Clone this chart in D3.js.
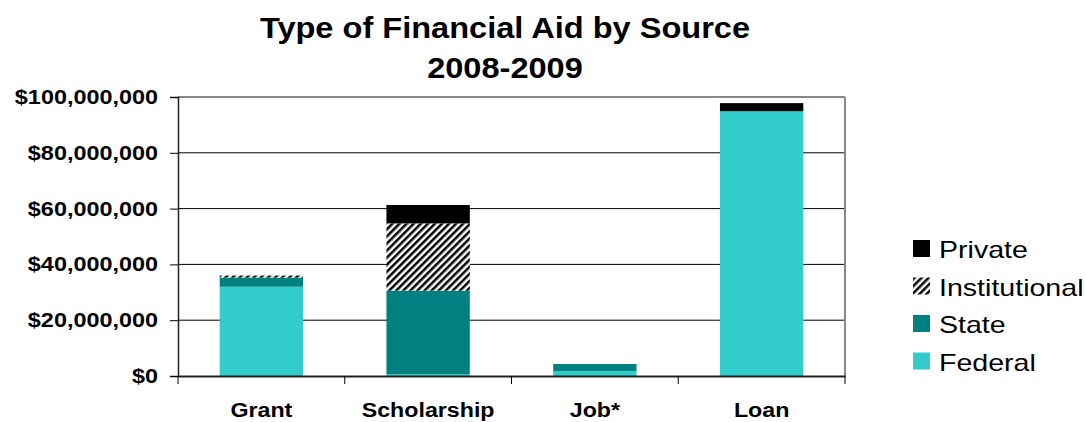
<!DOCTYPE html>
<html>
<head>
<meta charset="utf-8">
<script src="https://cdn.jsdelivr.net/npm/d3@7"></script>
<style>
  body { margin: 0; background: #fff; }
  text { font-family: "Liberation Sans", Arial, sans-serif; }
</style>
</head>
<body>
<div id="chart"></div>
<script>
const categories = ["Grant", "Scholarship", "Job*", "Loan"];
const seriesNames = ["Federal", "State", "Institutional", "Private"];
// values in millions of dollars
const federal = [32.0, 0.6, 1.8, 94.9];
const state = [3.3, 30.0, 2.5, 0];
const institutional = [0.7, 24.1, 0, 0];
const privateAid = [0, 6.6, 0, 2.9];
const yTicks = [0, 20, 40, 60, 80, 100];

const rows = categories.map((c, i) => ({
  cat: c,
  Federal: federal[i],
  State: state[i],
  Institutional: institutional[i],
  Private: privateAid[i]
}));

const W = 1086, H = 422;
const MARGIN = { LEFT: 178, RIGHT: 241, TOP: 97, BOTTOM: 46 };
const width = W - MARGIN.LEFT - MARGIN.RIGHT;
const height = H - MARGIN.TOP - MARGIN.BOTTOM;

// the original text is drawn a little wider than Liberation Sans
function stretch(sel, k) {
  sel.each(function () {
    const len = this.getComputedTextLength();
    d3.select(this).attr("textLength", len * k).attr("lengthAdjust", "spacingAndGlyphs");
  });
}

const svg = d3.select("#chart").append("svg")
  .attr("width", W).attr("height", H);

const defs = svg.append("defs");
const pat = defs.append("pattern")
  .attr("id", "hatch")
  .attr("patternUnits", "userSpaceOnUse")
  .attr("width", 5).attr("height", 5)
  .attr("patternTransform", "rotate(45)");
pat.append("rect").attr("width", 5).attr("height", 5).attr("fill", "#fff");
pat.append("rect").attr("width", 2.5).attr("height", 5).attr("fill", "#000");

const color = {
  Federal: "#33CCCC",
  State: "#008080",
  Institutional: "url(#hatch)",
  Private: "#000"
};

// title
const titles = svg.selectAll(".title").data(["Type of Financial Aid by Source", "2008-2009"]).enter()
  .append("text")
  .attr("x", 505).attr("y", (d, i) => 38 + i * 40)
  .attr("text-anchor", "middle")
  .attr("font-size", "30px").attr("font-weight", "bold")
  .text(d => d);
stretch(titles, 1.085);

const g = svg.append("g")
  .attr("transform", `translate(${MARGIN.LEFT},${MARGIN.TOP})`);

const x = d3.scaleBand().domain(categories).range([0, width]).paddingInner(0.5).paddingOuter(0.25);
const xOuter = d3.scaleBand().domain(categories).range([0, width]);
const y = d3.scaleLinear().domain([0, 100]).range([height, 0]);

// gridlines
g.selectAll(".grid").data(yTicks.slice(1, -1)).enter()
  .append("line")
  .attr("x1", 0).attr("x2", width)
  .attr("y1", d => y(d)).attr("y2", d => y(d))
  .attr("stroke", "#000").attr("stroke-width", 1);

// top / right border
g.append("line").attr("x1", 0).attr("x2", width).attr("y1", y(100)).attr("y2", y(100))
  .attr("stroke", "#888").attr("stroke-width", 2);
g.append("line").attr("x1", width).attr("x2", width).attr("y1", 0).attr("y2", height)
  .attr("stroke", "#888").attr("stroke-width", 2);

// stacked bars
const stack = d3.stack().keys(seriesNames);
const layers = stack(rows);
g.selectAll(".layer").data(layers).enter()
  .append("g")
  .attr("fill", d => color[d.key])
  .selectAll("rect").data(d => d).enter()
  .append("rect")
  .attr("x", d => x(d.data.cat))
  .attr("width", x.bandwidth())
  .attr("y", d => y(d[1]))
  .attr("height", d => y(d[0]) - y(d[1]));

// y axis
const yAxis = g.append("g")
  .call(d3.axisLeft(y).tickValues(yTicks).tickSize(8).tickPadding(12)
    .tickFormat(d => "$" + d3.format(",")(d * 1000000)));
yAxis.select(".domain").attr("stroke", "#222").attr("stroke-width", 1.5);
yAxis.selectAll("text").attr("font-size", "20px").attr("font-weight", "bold").attr("fill", "#000")
  .attr("font-family", "Liberation Sans, Arial, sans-serif");
stretch(yAxis.selectAll("text"), 1.17);

// x axis
const xAxis = g.append("g")
  .attr("transform", `translate(0,${height})`)
  .call(d3.axisBottom(xOuter).tickSize(0).tickPadding(27));
xAxis.select(".domain").attr("stroke", "#222").attr("stroke-width", 2);
xAxis.selectAll("text").attr("font-size", "20px").attr("font-weight", "bold").attr("fill", "#000")
  .attr("font-family", "Liberation Sans, Arial, sans-serif");
stretch(xAxis.selectAll("text"), 1.16);
g.selectAll(".xtick").data(d3.range(categories.length + 1)).enter()
  .append("line")
  .attr("x1", i => i * xOuter.step()).attr("x2", i => i * xOuter.step())
  .attr("y1", height).attr("y2", height + 8)
  .attr("stroke", "#000");

// legend
const legendG = svg.append("g").attr("transform", "translate(913,240)");
const legendItems = seriesNames.slice().reverse();
const legend = legendG.selectAll(".legend").data(legendItems).enter()
  .append("g")
  .attr("transform", (d, i) => `translate(0,${i * 37.5})`);
legend.append("rect")
  .attr("width", 17).attr("height", 17)
  .attr("fill", d => color[d]);
const legendText = legend.append("text")
  .attr("x", 26).attr("y", 18)
  .attr("font-size", "24px")
  .text(d => d);
stretch(legendText, 1.19);
</script>
</body>
</html>
